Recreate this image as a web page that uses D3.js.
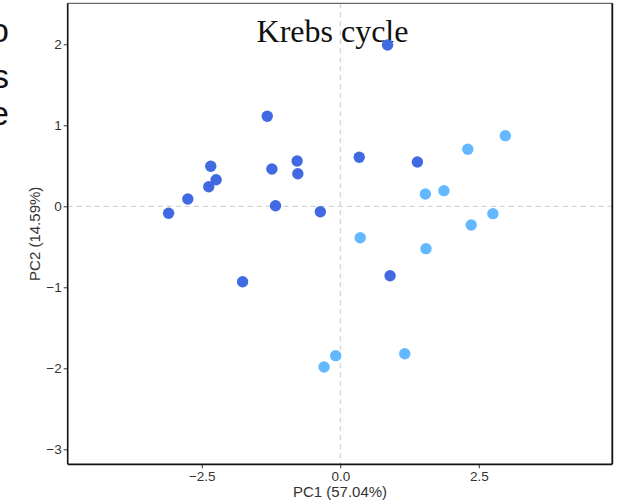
<!DOCTYPE html>
<html>
<head>
<meta charset="utf-8">
<script src="https://cdn.jsdelivr.net/npm/d3@7"></script>
<style>
  html, body { margin: 0; padding: 0; background: #fff; }
  svg { display: block; }
</style>
</head>
<body>
<svg id="chart" width="618" height="504"></svg>
<script>
// ---- data ----
const groups = ["A", "B"];
const groupColors = ["#4169E1", "#63B8FF"];
const pc1A = [0.853, -1.318, -2.338, -2.241, -2.374, -2.752, -3.099, -1.234, -0.779, -0.766, -1.169, -0.360, 0.342, 1.392, -1.763, 0.899];
const pc2A = [1.991, 1.111, 0.494, 0.328, 0.242, 0.090, -0.086, 0.460, 0.559, 0.402, 0.007, -0.068, 0.605, 0.547, -0.931, -0.857];
const pc1B = [2.980, 2.302, 1.871, 1.536, 2.755, 2.363, 0.360, 1.547, 1.164, -0.083, -0.293];
const pc2B = [0.872, 0.704, 0.193, 0.152, -0.091, -0.231, -0.388, -0.523, -1.820, -1.844, -1.984];
const xTicks = [-2.5, 0, 2.5];
const yTicks = [-3, -2, -1, 0, 1, 2];
const title = "Krebs cycle";
const xLabel = "PC1 (57.04%)";
const yLabel = "PC2 (14.59%)";
const edgeLetters = ["o", "s", "e"];

(function () {
const svg = d3.select("#chart");
const pLeft = 67.7, pRight = 612.3, pTop = 3.3, pBottom = 464.3;

const x = d3.scaleLinear().domain([-4.92, 4.91]).range([pLeft, pRight]);
const y = d3.scaleLinear().domain([-3.185, 2.506]).range([pBottom, pTop]);

// cropped letters at left edge (from neighbouring figure, cut off as in the reference)
svg.selectAll("text.edge").data(edgeLetters).enter().append("text")
  .attr("class", "edge")
  .attr("x", 9)
  .attr("y", (d, i) => [42, 88, 125][i])
  .attr("text-anchor", "end")
  .attr("font-family", "Liberation Sans, Arial, sans-serif")
  .attr("font-size", 34)
  .attr("fill", "#111")
  .text(d => d);

// reference lines
svg.append("line")
  .attr("x1", pLeft).attr("x2", pRight)
  .attr("y1", y(0)).attr("y2", y(0))
  .attr("stroke", "#c8c8c8").attr("stroke-width", 1)
  .attr("stroke-dasharray", "5,4");
svg.append("line")
  .attr("x1", x(0)).attr("x2", x(0))
  .attr("y1", pTop).attr("y2", pBottom)
  .attr("stroke", "#c8c8c8").attr("stroke-width", 1)
  .attr("stroke-dasharray", "5,4");

// title
svg.append("text")
  .attr("x", 332.5).attr("y", 42.3)
  .attr("text-anchor", "middle")
  .attr("font-family", "Liberation Serif, Times New Roman, serif")
  .attr("font-size", 32)
  .attr("fill", "#111")
  .text(title);

// points
const pts = [];
pc1A.forEach((v, i) => pts.push({ g: 0, x: v, y: pc2A[i] }));
pc1B.forEach((v, i) => pts.push({ g: 1, x: v, y: pc2B[i] }));
svg.append("g").selectAll("circle").data(pts).enter().append("circle")
  .attr("cx", d => x(d.x))
  .attr("cy", d => y(d.y))
  .attr("r", 5.7)
  .attr("fill", d => groupColors[d.g]);

// axes
const fmtX = d3.format(".1f");
const xAxis = svg.append("g")
  .attr("transform", `translate(0,${pBottom})`)
  .call(d3.axisBottom(x).tickValues(xTicks).tickFormat(fmtX).tickSize(4).tickSizeOuter(0));
const yAxis = svg.append("g")
  .attr("transform", `translate(${pLeft},0)`)
  .call(d3.axisLeft(y).tickValues(yTicks).tickFormat(d3.format("d")).tickSize(4).tickSizeOuter(0));
[xAxis, yAxis].forEach(a => {
  a.select(".domain").remove();
  a.selectAll(".tick line").attr("stroke", "#333");
  a.selectAll(".tick text")
    .attr("font-family", "Liberation Sans, Arial, sans-serif")
    .attr("font-size", 13.5)
    .attr("fill", "#333");
});
xAxis.selectAll(".tick text").attr("dy", "0.71em").attr("y", 7);
yAxis.selectAll(".tick text").attr("x", -6);

// panel border
svg.append("line").attr("x1", pLeft).attr("x2", pRight).attr("y1", pTop).attr("y2", pTop)
  .attr("stroke", "#444").attr("stroke-width", 1);
svg.append("line").attr("x1", pLeft).attr("x2", pLeft).attr("y1", pTop).attr("y2", pBottom)
  .attr("stroke", "#111").attr("stroke-width", 1.6);
svg.append("line").attr("x1", pLeft).attr("x2", pRight).attr("y1", pBottom).attr("y2", pBottom)
  .attr("stroke", "#111").attr("stroke-width", 1.8);
svg.append("line").attr("x1", pRight).attr("x2", pRight).attr("y1", pTop).attr("y2", pBottom)
  .attr("stroke", "#111").attr("stroke-width", 1.8);

// axis titles
svg.append("text")
  .attr("x", (pLeft + pRight) / 2).attr("y", 497)
  .attr("text-anchor", "middle")
  .attr("font-family", "Liberation Sans, Arial, sans-serif")
  .attr("font-size", 15)
  .attr("fill", "#333")
  .text(xLabel);
svg.append("text")
  .attr("transform", `translate(40,${(pTop + pBottom) / 2}) rotate(-90)`)
  .attr("text-anchor", "middle")
  .attr("font-family", "Liberation Sans, Arial, sans-serif")
  .attr("font-size", 15)
  .attr("fill", "#333")
  .text(yLabel);
})();
</script>
</body>
</html>
